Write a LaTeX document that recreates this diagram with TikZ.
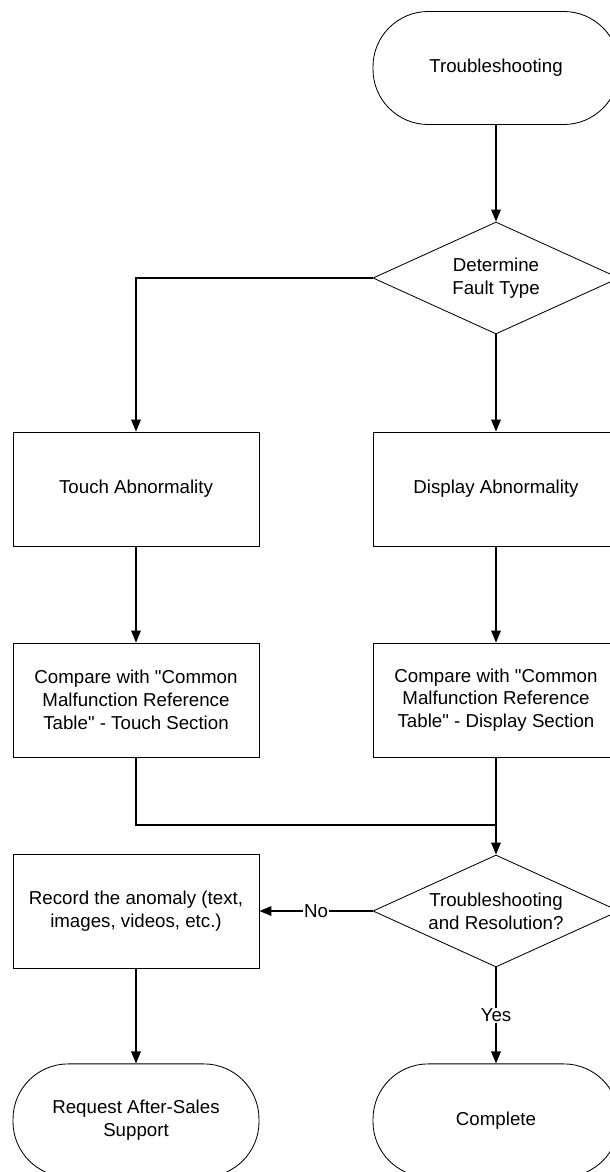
\documentclass[tikz,border=0pt]{standalone}
\usepackage{fontspec}
\setmainfont{Liberation Sans}
\newfontfamily\chartfont{Liberation Sans}
\usetikzlibrary{shapes,arrows.meta,positioning,calc}

\begin{document}
\begin{tikzpicture}[
    txt/.style={font=\chartfont\fontsize{13.3}{16.2}\selectfont},
    box/.style={draw, txt, line width=0.6pt, align=center, inner sep=0pt,
        minimum width=6.15cm, minimum height=2.85cm},
    term/.style={box, rounded corners=1.38cm, minimum height=2.825cm},
    decide/.style={draw, diamond, txt, line width=0.6pt, align=center, inner sep=0pt,
        aspect=2.2, minimum width=6.15cm, minimum height=2.8cm},
    flow/.style={-{Triangle[length=3mm,width=2.4mm]}, line width=1pt},
    link/.style={line width=1pt},
    tag/.style={txt, fill=white, inner sep=1pt}
]
    \clip (0,0) rectangle (15.25,-29.3);
    \useasboundingbox (0,0) rectangle (15.25,-29.3);

    % Start
    \node[term] (start) at (12.4,-1.7) {Troubleshooting};

    % Fault type
    \node[decide] (fault) at (12.4,-6.95) {Determine\\Fault Type};

    % Two branches
    \node[box] (touch) at (3.4,-12.225) {Touch Abnormality};
    \node[box] (display) at (12.4,-12.225) {Display Abnormality};
    \node[box] (cmpT) at (3.4,-17.5) {Compare with "Common\\Malfunction Reference\\Table" - Touch Section};
    \node[box] (cmpD) at (12.4,-17.5) {Compare with "Common\\Malfunction Reference\\Table" - Display Section};
    \coordinate (join) at (12.4,-20.625);

    % Resolution check
    \node[decide] (resolve) at (12.4,-22.775) {Troubleshooting\\and Resolution?};
    \node[box] (record) at (3.4,-22.775) {Record the anomaly (text,\\images, videos, etc.)};

    % Ends
    \node[term] (request) at (3.4,-28.01) {Request After-Sales\\Support};
    \node[term] (done) at (12.4,-28.01) {Complete};

    % Connectors
    \draw[flow] (start) -- (fault);
    \draw[flow] (fault.west) -| (touch.north);
    \draw[flow] (fault.south) -- (display.north);
    \draw[flow] (touch) -- (cmpT);
    \draw[flow] (display) -- (cmpD);
    \draw[link] (cmpT.south) |- (join);
    \draw[flow] (cmpD.south) -- (resolve.north);
    \draw[flow] (resolve.west) -- node[tag] {No} (record.east);
    \draw[flow] (resolve.south) -- node[tag] {Yes} (done.north);
    \draw[flow] (record) -- (request);
\end{tikzpicture}
\end{document}
